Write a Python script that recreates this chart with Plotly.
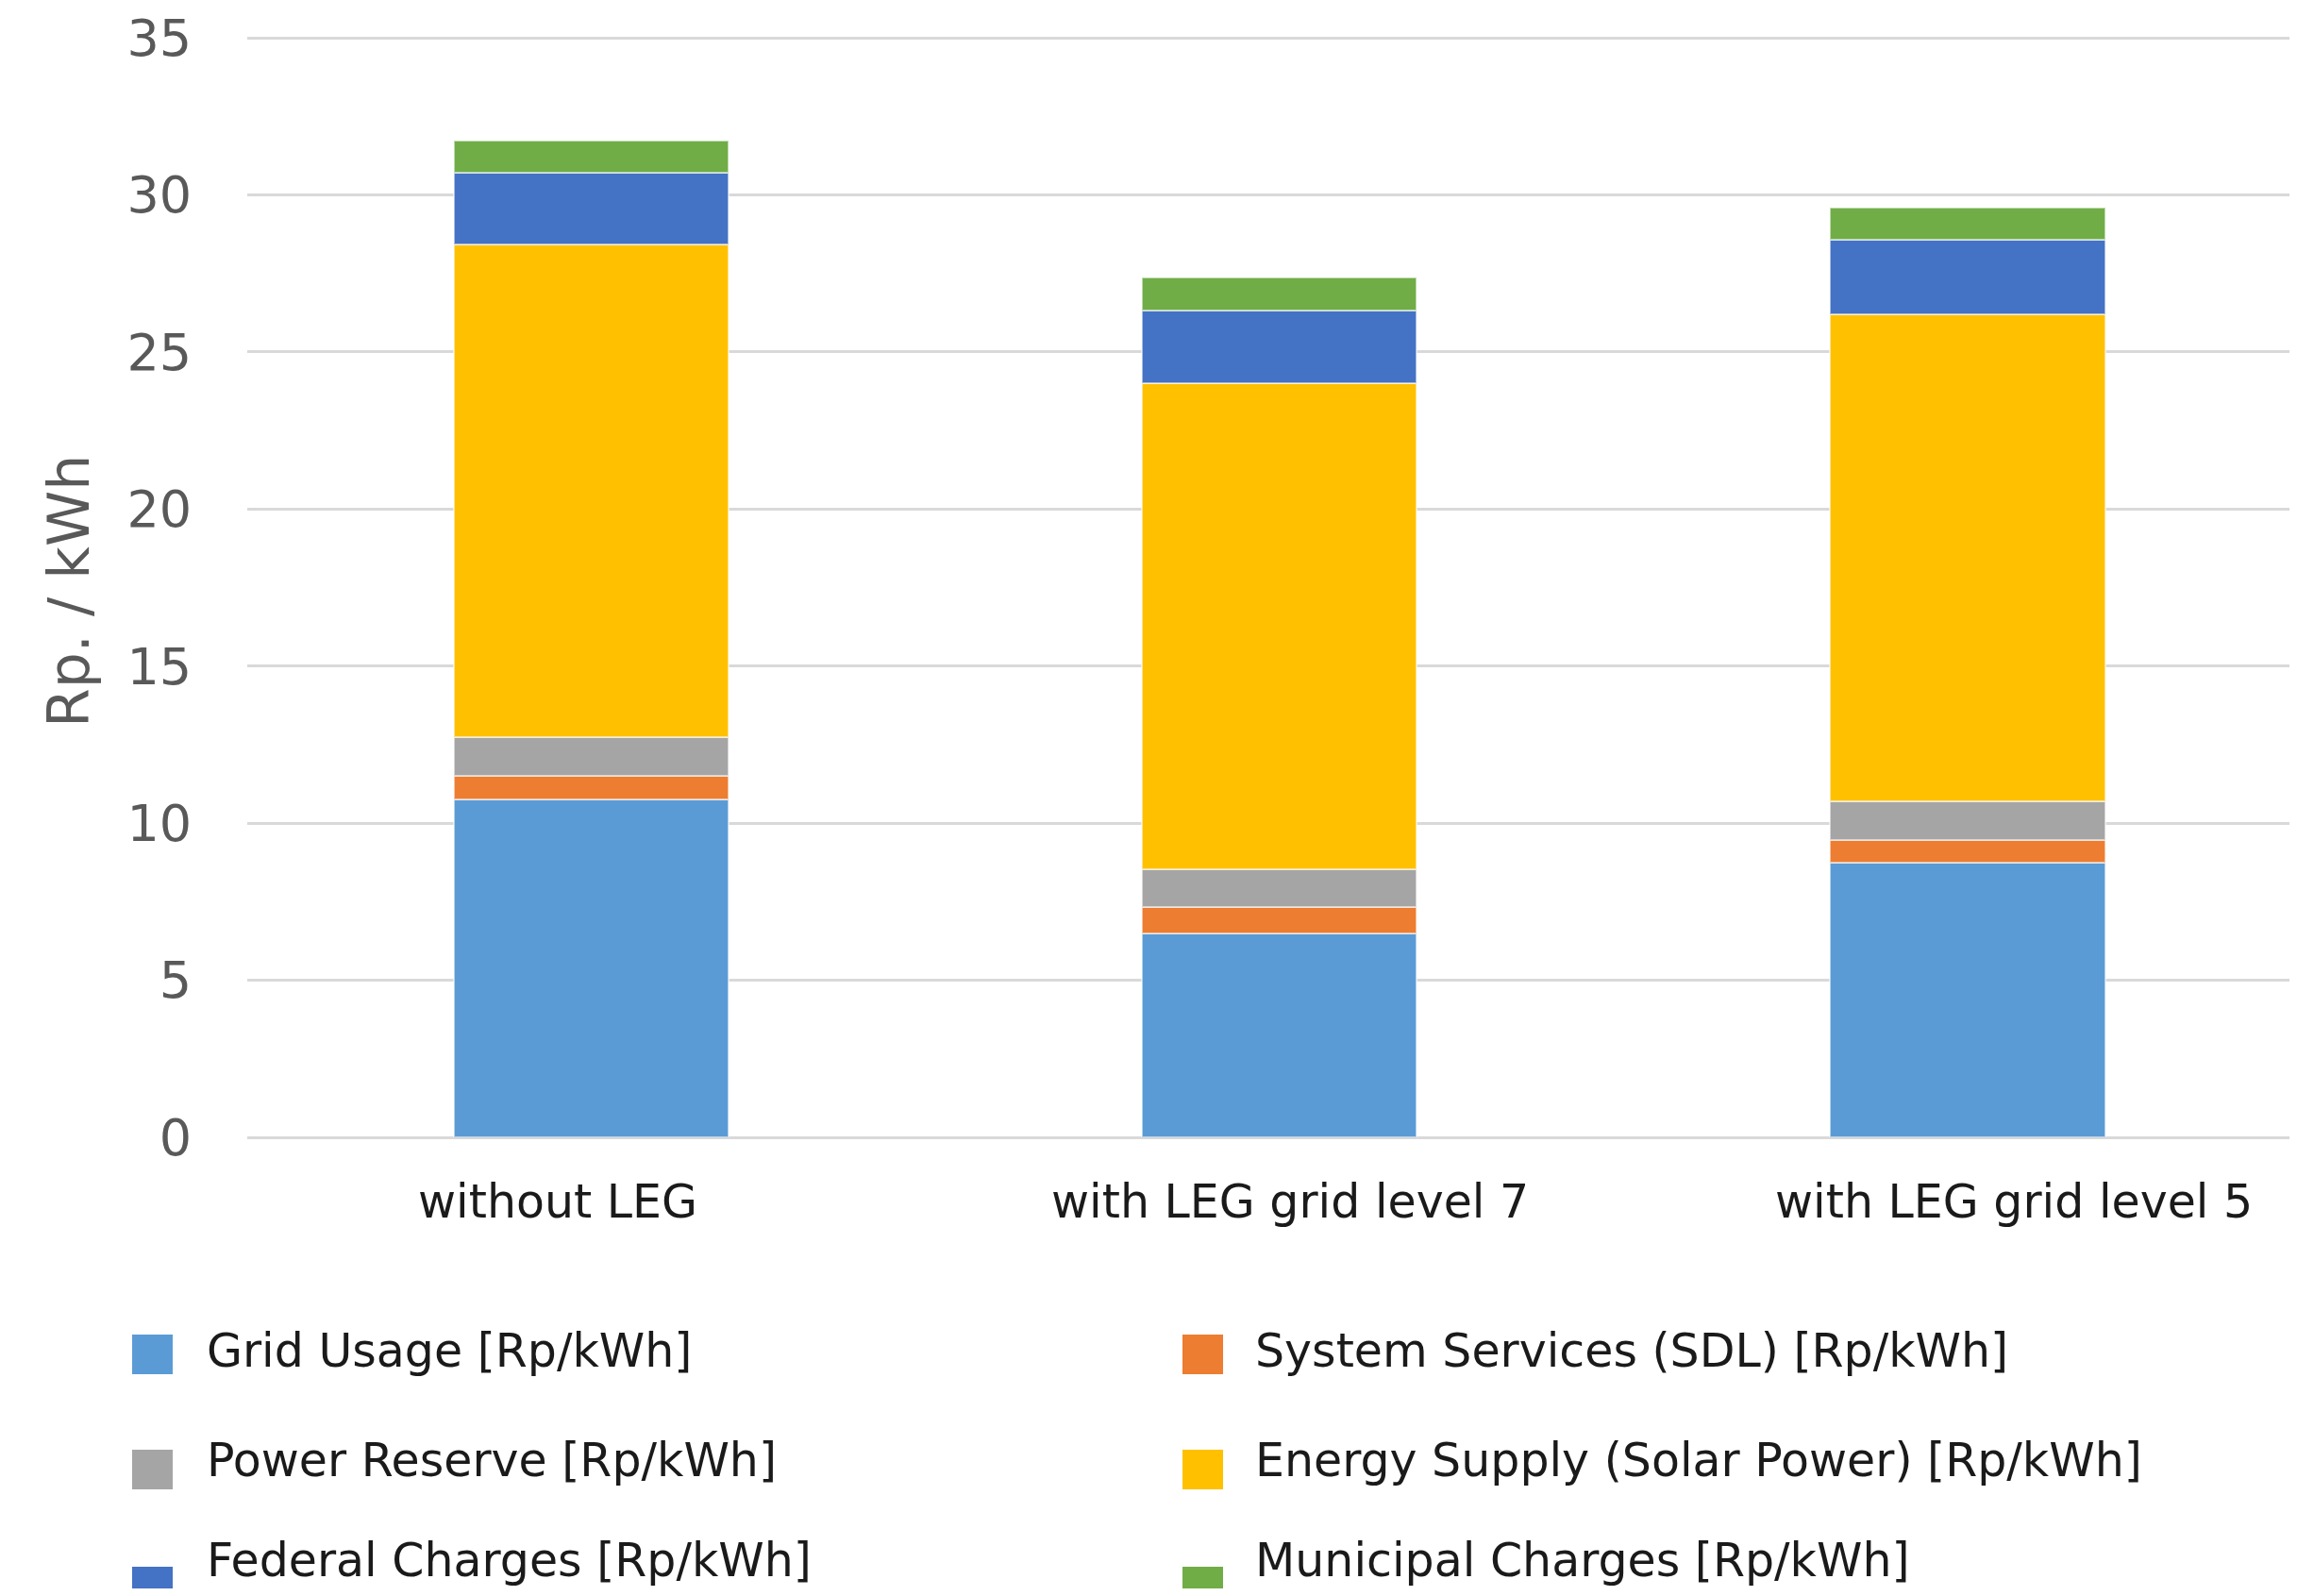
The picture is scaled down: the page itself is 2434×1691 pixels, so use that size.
import plotly.graph_objects as go

categories = ["without LEG", "with LEG grid level 7", "with LEG grid level 5"]

grid_usage = [10.77, 6.48, 8.74]
system_services = [0.75, 0.84, 0.72]
power_reserve = [1.22, 1.21, 1.24]
energy_supply = [15.68, 15.47, 15.49]
federal_charges = [2.27, 2.33, 2.39]
municipal_charges = [1.05, 1.04, 1.00]

series_names = [
    "Grid Usage [Rp/kWh]",
    "System Services (SDL) [Rp/kWh]",
    "Power Reserve [Rp/kWh]",
    "Energy Supply (Solar Power) [Rp/kWh]",
    "Federal Charges [Rp/kWh]",
    "Municipal Charges [Rp/kWh]",
]
series_values = [grid_usage, system_services, power_reserve,
                 energy_supply, federal_charges, municipal_charges]
series_colors = ["#5B9BD5", "#ED7D31", "#A5A5A5", "#FFC000", "#4472C4", "#70AD47"]

y_ticks = [0, 5, 10, 15, 20, 25, 30, 35]

# page has an 8px body margin; figure coords = page coords - 8
OFF = 8
W, H = 2434 - 2 * OFF, 1691 - 2 * OFF
PX_PER_UNIT = (1205 - 40) / 35.0
EXTRA = 4  # px of headroom so the 35 gridline is drawn
L = 262 - OFF
T = 40 - OFF - EXTRA
PLOT_BOTTOM = 1205 - OFF
B = H - PLOT_BOTTOM
R = 0
PW, PH = W - L - R, H - T - B
Y_MAX = 35 + EXTRA / PX_PER_UNIT

def px(x_page):
    return (x_page - OFF - L) / PW

def py(y_page):
    return (PLOT_BOTTOM - (y_page - OFF)) / PH

fig = go.Figure()
for name, vals, col in zip(series_names, series_values, series_colors):
    fig.add_trace(go.Bar(
        x=categories, y=vals, name=name,
        marker=dict(color=col, line=dict(color="rgba(255,255,255,0.55)", width=2)),
        showlegend=False,
    ))

annotations = []
label_shift = [-36, 11, 49]
for c, s in zip(categories, label_shift):
    annotations.append(dict(
        x=c, xref="x", y=0, yref="paper", yshift=-68, xshift=s,
        text=c, showarrow=False, xanchor="center", yanchor="middle",
        font=dict(family="DejaVu Sans", size=49, color="#1a1a1a"),
    ))
annotations.append(dict(
    x=px(73), xref="paper", y=py(627), yref="paper",
    text="Rp. / kWh", showarrow=False, textangle=-90,
    xanchor="center", yanchor="middle",
    font=dict(family="DejaVu Sans", size=60, color="#595959"),
))

shapes = []
col_marker_x = [140, 1253]
col_text_x = [217, 1328]
row_marker_top = [1414, 1536, 1660]
row_text_y = [1431, 1547, 1653]
for i, (name, col) in enumerate(zip(series_names, series_colors)):
    r, c = divmod(i, 2)
    x0 = col_marker_x[c]
    y0 = row_marker_top[r]
    shapes.append(dict(
        type="rect", xref="paper", yref="paper",
        x0=px(x0), x1=px(x0 + 43), y0=py(y0), y1=py(y0 + 42),
        fillcolor=col, line=dict(width=0), layer="above",
    ))
    annotations.append(dict(
        x=px(col_text_x[c]), xref="paper", y=py(row_text_y[r]), yref="paper",
        text=name, showarrow=False, xanchor="left", yanchor="middle",
        font=dict(family="DejaVu Sans", size=49, color="#1a1a1a"),
    ))

fig.update_layout(
    width=W, height=H,
    margin=dict(l=L, r=R, t=T, b=B, pad=0),
    barmode="stack", bargap=0.6,
    paper_bgcolor="white", plot_bgcolor="white",
    annotations=annotations, shapes=shapes,
    showlegend=False,
)
fig.update_xaxes(
    range=[-0.5, 2.468], showticklabels=False, showgrid=False,
    zeroline=False, showline=False, ticks="",
)
fig.update_yaxes(
    range=[0, Y_MAX], tickvals=y_ticks, ticktext=[str(v) for v in y_ticks],
    showgrid=True, gridcolor="#D9D9D9", gridwidth=3,
    zeroline=True, zerolinecolor="#D9D9D9", zerolinewidth=3,
    showline=False, ticks="outside", ticklen=47, tickcolor="rgba(0,0,0,0)",
    tickfont=dict(family="DejaVu Sans", size=54, color="#595959"),
)

fig.write_html("out.html")
